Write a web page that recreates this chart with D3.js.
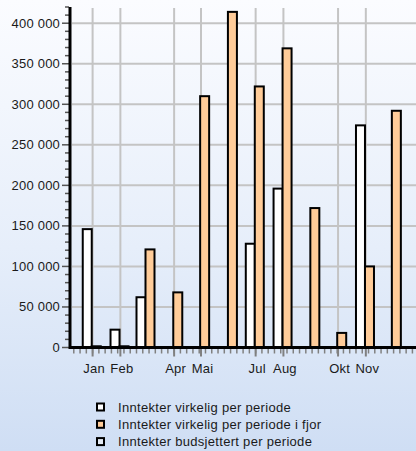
<!DOCTYPE html>
<html>
<head>
<meta charset="utf-8">
<script src="https://cdn.jsdelivr.net/npm/d3@7"></script>
<style>
html,body{margin:0;padding:0;}
body{width:416px;height:451px;overflow:hidden;}
svg{display:block;font-family:"Liberation Sans",Arial,sans-serif;}
</style>
</head>
<body>
<svg id="chart" width="416" height="451"></svg>
<script>
// ---- data ----
const months = ["Jan","Feb","Mar","Apr","Mai","Jun","Jul","Aug","Sep","Okt","Nov","Des"];
const actual = [146000, 22000, 62000, 0, 0, 0, 128000, 196000, 0, 0, 274000, 0];
const lastYear = [1500, 1500, 121000, 68000, 310000, 414000, 322000, 369000, 172000, 18000, 100000, 292000];
const budget = [0, 0, 0, 0, 0, 0, 0, 0, 0, 0, 0, 0];
const labeledMonths = ["Jan","Feb","Apr","Mai","Jul","Aug","Okt","Nov"];
const yTicks = [0, 50000, 100000, 150000, 200000, 250000, 300000, 350000, 400000];
const seriesNames = ["Inntekter virkelig per periode", "Inntekter virkelig per periode i fjor", "Inntekter budsjettert per periode"];
const seriesColors = ["#ffffff", "#ffcc99", "#e4eaf3"];

(function(){
const year = 2024;
const svg = d3.select("#chart");
const W = 416, H = 451;

// background gradient
const defs = svg.append("defs");
const lg = defs.append("linearGradient").attr("id","bg").attr("x1",0).attr("y1",0).attr("x2",0).attr("y2",1);
lg.append("stop").attr("offset","0%").attr("stop-color","#fbfcff");
lg.append("stop").attr("offset","55%").attr("stop-color","#e6eefa");
lg.append("stop").attr("offset","100%").attr("stop-color","#cfdef4");
svg.append("rect").attr("width",W).attr("height",H).attr("fill","url(#bg)");

const pL = 72, pR = 416, pT = 7, pB = 347.5;
const x = d3.scaleTime()
  .domain([new Date(year-1, 11, 9), new Date(year, 11, 27)])
  .range([pL, pR]);
const y = d3.scaleLinear().domain([0, 420000]).range([pB, pT]);

const monthDates = months.map((m,i) => new Date(year, i, 1));
const labeled = monthDates.filter((d,i) => labeledMonths.includes(months[i]));

// grid
const g = svg.append("g");
g.selectAll("line.hg").data(yTicks.filter(v=>v>0)).join("line")
  .attr("x1", pL).attr("x2", pR)
  .attr("y1", d=>y(d)).attr("y2", d=>y(d))
  .attr("stroke","#c4c4c4").attr("stroke-width",2);
g.selectAll("line.vg").data(labeled).join("line")
  .attr("x1", d=>x(d)).attr("x2", d=>x(d))
  .attr("y1", pT+1).attr("y2", pB)
  .attr("stroke","#c4c4c4").attr("stroke-width",2);

// bars
const series = [actual, lastYear, budget];
const bw = 9;
const bars = [];
months.forEach((m,i) => {
  const gx = x(d3.timeDay.offset(monthDates[i], -11));
  series.forEach((s,k) => bars.push({x: gx + k*bw, v: s[i], k}));
});
svg.append("g").selectAll("rect").data(bars).join("rect")
  .attr("x", d=>d.x).attr("width", bw)
  .attr("y", d=>y(d.v)).attr("height", d=>Math.max(0, y(0)-y(d.v)))
  .attr("fill", d=>seriesColors[d.k])
  .attr("stroke","#000").attr("stroke-width",2);

// x axis
const xa = svg.append("g");
const minor = d3.timeMonday.range(x.domain()[0], x.domain()[1]);
xa.selectAll("line.mt").data(minor).join("line")
  .attr("x1", d=>x(d)).attr("x2", d=>x(d))
  .attr("y1", pB+1).attr("y2", pB+6)
  .attr("stroke","#808080").attr("stroke-width",1.5);
xa.selectAll("line.Mt").data(labeled).join("line")
  .attr("x1", d=>x(d)).attr("x2", d=>x(d))
  .attr("y1", pB+1).attr("y2", pB+9)
  .attr("stroke","#808080").attr("stroke-width",2);
xa.append("line").attr("x1", pL-2).attr("x2", pR).attr("y1", pB).attr("y2", pB)
  .attr("stroke","#000").attr("stroke-width",3);
xa.selectAll("text").data(labeled).join("text")
  .attr("x", d=>x(d)+1.5).attr("y", 372.5)
  .attr("text-anchor","middle").attr("font-size","13px").attr("letter-spacing","0.2px").attr("fill","#1a1a1a")
  .text(d=>months[d.getMonth()]);

// y axis
const ya = svg.append("g");
const fmt = d3.formatLocale({decimal:",", thousands:" ", grouping:[3], currency:["","kr"]}).format(",");
const yMinor = d3.range(0, 420001, 10000).filter(v => v % 50000 !== 0);
ya.selectAll("line.ymt").data(yMinor).join("line")
  .attr("x1", 65).attr("x2", 69).attr("y1", d=>y(d)).attr("y2", d=>y(d))
  .attr("stroke","#555").attr("stroke-width",1.5);
ya.selectAll("line.yMt").data(yTicks).join("line")
  .attr("x1", 62).attr("x2", 69).attr("y1", d=>y(d)).attr("y2", d=>y(d))
  .attr("stroke","#555").attr("stroke-width",1.5);
ya.append("line").attr("x1", 70).attr("x2", 70).attr("y1", pT).attr("y2", pB+1.5)
  .attr("stroke","#000").attr("stroke-width",3);
ya.selectAll("text").data(yTicks).join("text")
  .attr("x", 60).attr("y", d=>y(d)+4.5)
  .attr("text-anchor","end").attr("font-size","13px").attr("letter-spacing","0.2px").attr("fill","#1a1a1a")
  .text(d=>fmt(d));

// legend
const leg = svg.append("g");
seriesNames.forEach((n,i) => {
  const cy = 407 + i*17.3;
  leg.append("rect").attr("x", 97).attr("y", cy-3.5).attr("width",7).attr("height",7)
    .attr("fill", seriesColors[i]).attr("stroke","#000").attr("stroke-width",2);
  leg.append("text").attr("x", 118).attr("y", cy+4.5)
    .attr("font-size","13px").attr("letter-spacing","0.3px").attr("fill","#1a1a1a").text(n);
});
})();
</script>
</body>
</html>
